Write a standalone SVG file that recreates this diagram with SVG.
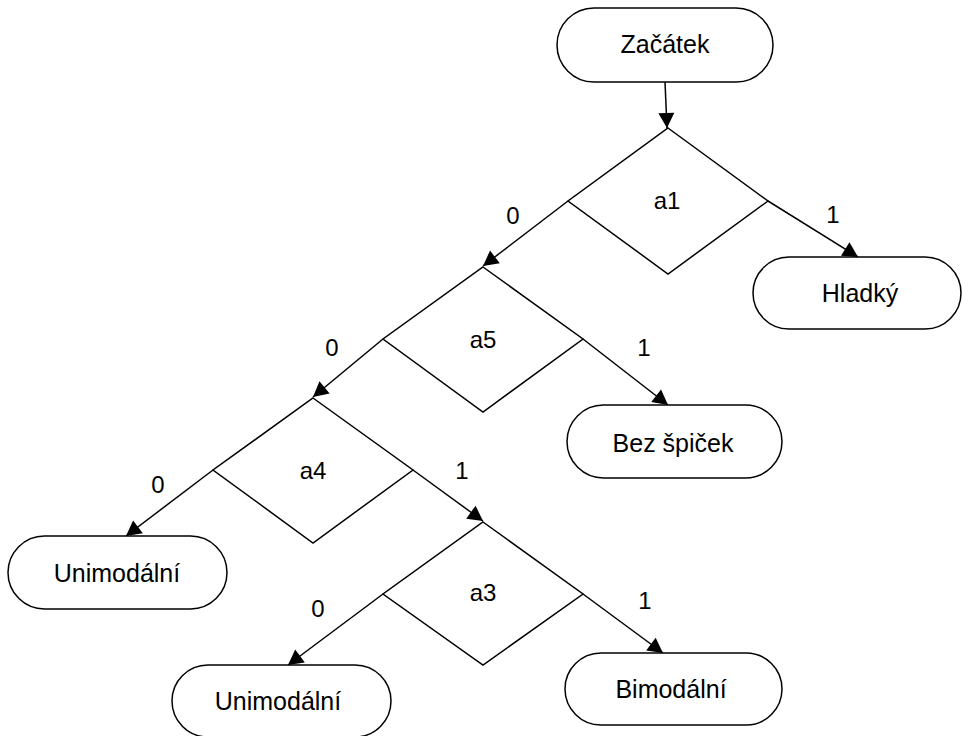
<svg xmlns="http://www.w3.org/2000/svg" width="963" height="736" viewBox="0 0 963 736">
<style>
.n{fill:#fff;stroke:#000;stroke-width:1.5}
.t{font-family:"Liberation Sans",Arial,sans-serif;font-size:25px;text-anchor:middle;fill:#000}
.l{font-family:"Liberation Sans",Arial,sans-serif;font-size:24px;text-anchor:middle;fill:#000}
.c{fill:none;stroke:#000;stroke-width:1.5;marker-end:url(#ah)}
</style>
<defs>
<marker id="ah" markerUnits="userSpaceOnUse" markerWidth="16" markerHeight="16" refX="15" refY="8" orient="auto" overflow="visible">
<path d="M0,0 L15,8 L0,16 z" fill="#000"/>
</marker>
</defs>
<rect width="963" height="736" fill="#fff"/>
<g id="connectors">
<line class="c" x1="665" y1="82" x2="667" y2="128"/>
<line class="c" x1="568" y1="201" x2="483" y2="266"/>
<line class="c" x1="768" y1="201" x2="858" y2="257"/>
<line class="c" x1="383" y1="339" x2="313" y2="397"/>
<line class="c" x1="583" y1="339" x2="668" y2="405"/>
<line class="c" x1="213" y1="470" x2="126" y2="536"/>
<line class="c" x1="413" y1="470" x2="483" y2="521"/>
<line class="c" x1="383" y1="594" x2="288" y2="665"/>
<line class="c" x1="583" y1="594" x2="663" y2="653"/>
<text class="l" x="513" y="224">0</text>
<text class="l" x="833" y="223">1</text>
<text class="l" x="332" y="356">0</text>
<text class="l" x="644" y="356">1</text>
<text class="l" x="158" y="493">0</text>
<text class="l" x="462" y="479">1</text>
<text class="l" x="318" y="617">0</text>
<text class="l" x="645" y="609">1</text>
</g>
<g id="start">
<rect class="n" x="557" y="8" width="216" height="74" rx="37"/>
<text class="t" x="665" y="53">Začátek</text>
</g>
<g id="a1">
<polygon class="n" points="668,128 768,201 668,274 568,201"/>
<text class="l" x="667" y="209">a1</text>
</g>
<g id="hladky">
<rect class="n" x="753" y="257" width="208" height="72" rx="36"/>
<text class="t" x="860" y="302">Hladký</text>
</g>
<g id="a5">
<polygon class="n" points="483,267 583,339 483,412 383,339"/>
<text class="l" x="483" y="348">a5</text>
</g>
<g id="bez">
<rect class="n" x="567" y="405" width="215" height="73" rx="36.5"/>
<text class="t" x="673" y="452">Bez špiček</text>
</g>
<g id="a4">
<polygon class="n" points="313,398 413,470 313,543 213,470"/>
<text class="l" x="313" y="479">a4</text>
</g>
<g id="uni1">
<rect class="n" x="8" y="536" width="219" height="73" rx="36.5"/>
<text class="t" x="117" y="582">Unimodální</text>
</g>
<g id="a3">
<polygon class="n" points="483,522 583,594 483,665 383,594"/>
<text class="l" x="483" y="601">a3</text>
</g>
<g id="uni2">
<rect class="n" x="172" y="665" width="219" height="72" rx="36"/>
<text class="t" x="278" y="710">Unimodální</text>
</g>
<g id="bimo">
<rect class="n" x="565" y="653" width="217" height="72" rx="36"/>
<text class="t" x="671" y="698">Bimodální</text>
</g>
</svg>
